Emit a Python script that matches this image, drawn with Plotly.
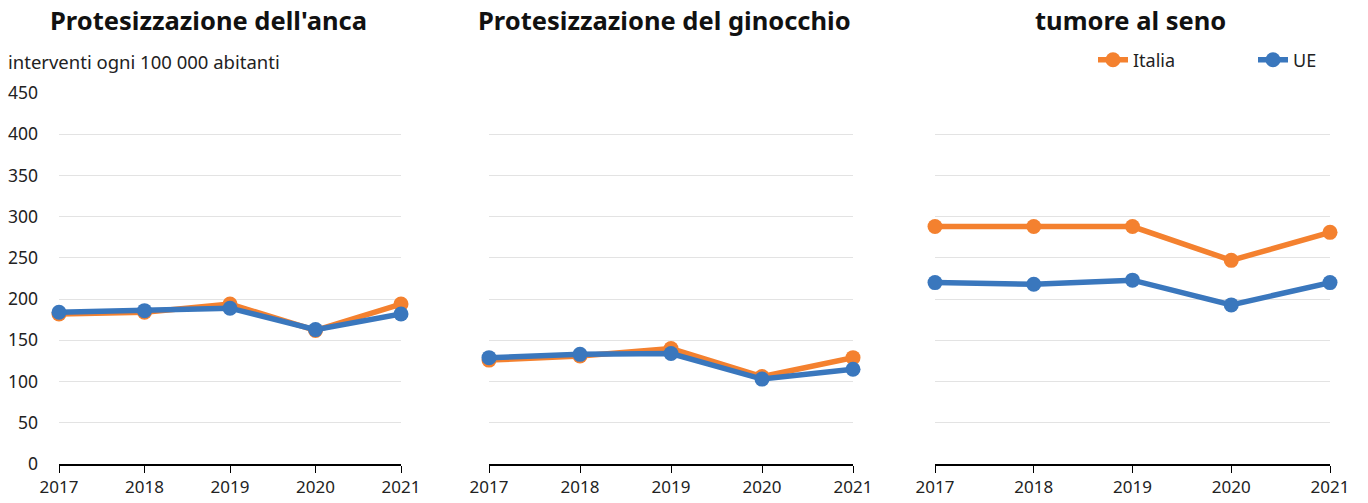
import plotly.graph_objects as go

years = [2017, 2018, 2019, 2020, 2021]
panel_titles = ["Protesizzazione dell'anca", "Protesizzazione del ginocchio", "tumore al seno"]
series_names = ["Italia", "UE"]

anca_italia = [182, 184, 194, 162, 194]
anca_ue = [184, 186, 189, 163, 182]
ginocchio_italia = [126, 131, 140, 106, 129]
ginocchio_ue = [129, 133, 134, 103, 115]
seno_italia = [288, 288, 288, 247, 281]
seno_ue = [220, 218, 223, 193, 220]

y_ticks = [0, 50, 100, 150, 200, 250, 300, 350, 400, 450]
unit_label = "interventi ogni 100 000 abitanti"

W, H = 1368, 503
colors = {"Italia": "#F4812F", "UE": "#3A77BD"}
font = "Noto Sans"

panels = [
    (anca_italia, anca_ue),
    (ginocchio_italia, ginocchio_ue),
    (seno_italia, seno_ue),
]
x_px = [(59, 401), (489, 853), (935, 1330)]
title_cx = [208, 664, 1130]
y_dom = [(H - 464) / H, (H - 93) / H]

fig = go.Figure()
for i, (it, ue) in enumerate(panels):
    sfx = "" if i == 0 else str(i + 1)
    for name, vals in zip(series_names, (it, ue)):
        fig.add_trace(go.Scatter(
            x=years, y=vals, name=name, mode="lines+markers",
            line=dict(color=colors[name], width=5.5),
            marker=dict(color=colors[name], size=15),
            xaxis="x" + sfx, yaxis="y" + sfx,
            showlegend=(i == 0), cliponaxis=False,
        ))
    x0, x1 = x_px[i]
    fig.layout["xaxis" + sfx] = dict(
        domain=[x0 / W, x1 / W], range=[2017, 2021], anchor="y" + sfx,
        tickvals=years, ticktext=[str(y) for y in years],
        showline=True, linecolor="#000", linewidth=1.5,
        ticks="outside", ticklen=7, tickcolor="#000", tickwidth=1,
        showgrid=False, zeroline=False, automargin=False,
        tickfont=dict(family=font, size=17, color="#222"),
    )
    fig.layout["yaxis" + sfx] = dict(
        domain=y_dom, range=[0, 450], anchor="x" + sfx,
        tickvals=y_ticks, showticklabels=(i == 0),
        showgrid=True, gridcolor="#E3E3E3", gridwidth=1,
        zeroline=False, showline=False, ticks="", automargin=False,
        tickfont=dict(family=font, size=17.5, color="#222"),
        ticklabelstandoff=20,
    )
    fig.add_annotation(
        text="<b>" + panel_titles[i] + "</b>", x=title_cx[i] / W, y=(H - 20) / H,
        xref="paper", yref="paper", xanchor="center", yanchor="middle",
        showarrow=False, font=dict(family=font, size=25.5, color="#111"),
    )

fig.add_annotation(
    text=unit_label, x=6 / W, y=(H - 61) / H, xref="paper", yref="paper",
    xanchor="left", yanchor="middle", showarrow=False,
    font=dict(family=font, size=18.5, color="#222"),
)

fig.update_layout(
    width=W, height=H, margin=dict(l=0, r=0, t=0, b=0, autoexpand=False),
    paper_bgcolor="white", plot_bgcolor="white",
    legend=dict(
        orientation="h", x=1093 / W, y=(H - 60) / H, xanchor="left", yanchor="middle",
        font=dict(family=font, size=18, color="#222"),
        entrywidth=115, entrywidthmode="pixels", bgcolor="rgba(0,0,0,0)",
    ),
    font=dict(family=font),
)

fig.write_html(
    "out.html",
    config={"displayModeBar": False},
    post_script="document.body.style.margin='0';document.body.style.overflow='hidden';",
)
